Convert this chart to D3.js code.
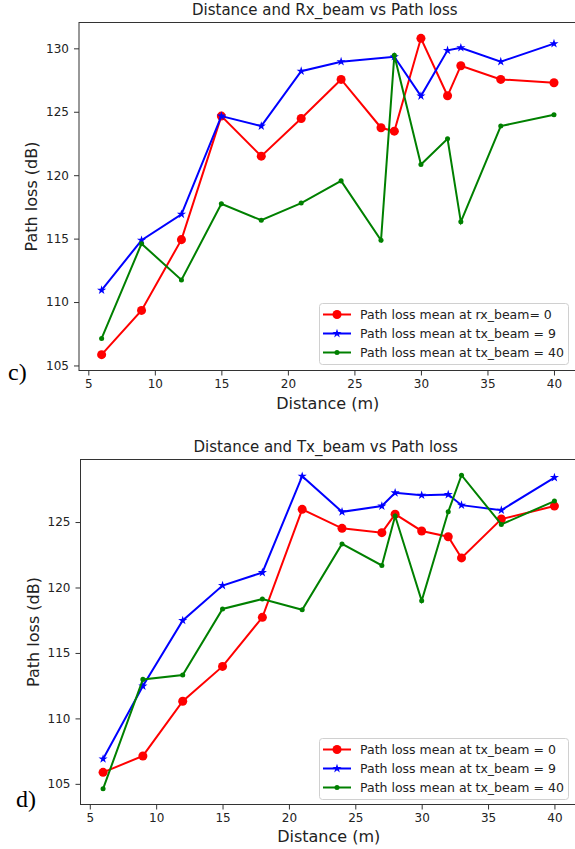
<!DOCTYPE html>
<meta charset="utf-8">
<script src="https://d3js.org/d3.v7.min.js"></script>
<style>
  body { margin: 0; background: #fff; }
  text { font-family: "DejaVu Sans", sans-serif; fill: #222; }
</style>
<svg id="my_dataviz" width="575" height="849"></svg>
<script>

    // distances (m)
    var distC = [6, 9, 12, 15, 18, 21, 24, 27, 28, 30, 32, 33, 36, 40];
    var distCBlue = [6, 9, 12, 15, 18, 21, 24, 28, 30, 32, 33, 36, 40];
    var distD = [6, 9, 12, 15, 18, 21, 24, 27, 28, 30, 32, 33, 36, 40];

    // c) Distance and Rx_beam vs Path loss
    var cRx0 = [105.85, 109.34, 114.92, 124.66, 121.5, 124.47, 127.55, 123.74, 123.47, 130.79, 126.26, 128.63, 127.55, 127.29];
    var cTx9 = [110.94, 114.87, 116.92, 124.66, 123.87, 128.2, 128.95, 129.34, 126.24, 129.84, 130.05, 128.95, 130.37];
    var cTx40 = [107.13, 114.6, 111.74, 117.74, 116.45, 117.8, 119.55, 114.87, 129.45, 120.84, 122.87, 116.32, 123.87, 124.77];

    // d) Distance and Tx_beam vs Path loss
    var dTx0 = [105.88, 107.13, 111.31, 113.97, 117.72, 125.97, 124.52, 124.19, 125.6, 124.32, 123.88, 122.26, 125.23, 126.22];
    var dTx9 = [106.9, 112.47, 117.48, 120.15, 121.14, 128.5, 125.78, 126.22, 127.23, 127.05, 127.1, 126.29, 125.91, 128.4];
    var dTx40 = [104.62, 112.98, 113.31, 118.36, 119.12, 118.3, 123.33, 121.68, 125.46, 118.99, 125.78, 128.58, 124.82, 126.6];

    var xTicks = [5, 10, 15, 20, 25, 30, 35, 40];
    var yTicksC = [105, 110, 115, 120, 125, 130];
    var yTicksD = [105, 110, 115, 120, 125];

    var legendC = ["Path loss mean at rx_beam= 0", "Path loss mean at tx_beam = 9", "Path loss mean at tx_beam = 40"];
    var legendD = ["Path loss mean at tx_beam = 0", "Path loss mean at tx_beam = 9", "Path loss mean at tx_beam = 40"];

    var svg = d3.select("svg");

    // matplotlib style 5% margins
    function padded(ext) {
        var m = (ext[1] - ext[0]) * 0.05;
        return [ext[0] - m, ext[1] + m];
    }

    function drawPanel(o) {
        var g = svg.append("g");
        var allX = d3.merge(o.series.map(function (s) { return s.x }));
        var allY = d3.merge(o.series.map(function (s) { return s.y }));

        var x = d3.scaleLinear().domain(padded(d3.extent(allX))).range([o.left, o.right]);
        var y = d3.scaleLinear().domain(padded(d3.extent(allY))).range([o.bottom, o.top]);

        // frame
        g.append("rect")
            .attr("x", o.left).attr("y", o.top)
            .attr("width", o.right - o.left).attr("height", o.bottom - o.top)
            .attr("fill", "none").attr("stroke", "#333").attr("stroke-width", 1);

        // axes
        var xa = g.append("g")
            .attr("transform", "translate(0," + o.bottom + ")")
            .call(d3.axisBottom(x).tickValues(xTicks).tickSize(5).tickPadding(4).tickFormat(d3.format("d")));
        var ya = g.append("g")
            .attr("transform", "translate(" + o.left + ",0)")
            .call(d3.axisLeft(y).tickValues(o.yTicks).tickSize(5).tickPadding(5).tickFormat(d3.format("d")));
        [xa, ya].forEach(function (a) {
            a.select(".domain").remove();
            a.selectAll("line").attr("stroke", "#333");
            a.selectAll("text").attr("font-size", 12).attr("font-family", "DejaVu Sans").attr("fill", "#222");
        });

        // lines + markers
        o.series.forEach(function (s) {
            var pts = s.x.map(function (d, i) { return [d, s.y[i]] });
            g.append("path")
                .datum(pts)
                .attr("fill", "none")
                .attr("stroke", s.color)
                .attr("stroke-width", 2)
                .attr("d", d3.line()
                    .x(function (d) { return x(d[0]) })
                    .y(function (d) { return y(d[1]) }));
            g.append("g")
                .selectAll("path")
                .data(pts)
                .enter()
                .append("path")
                .attr("transform", function (d) { return "translate(" + x(d[0]) + "," + y(d[1]) + ")" })
                .attr("d", s.marker)
                .attr("fill", s.color);
        });

        // title / labels
        g.append("text")
            .attr("x", (o.left + o.right) / 2 - 3).attr("y", o.top - 7.5)
            .attr("text-anchor", "middle").attr("font-size", 15)
            .text(o.title);
        g.append("text")
            .attr("x", (o.left + o.right) / 2).attr("y", o.xlabelY)
            .attr("text-anchor", "middle").attr("font-size", 16)
            .text("Distance (m)");
        g.append("text")
            .attr("transform", "translate(" + o.ylabelX + "," + (o.top + o.bottom) / 2 + ") rotate(-90)")
            .attr("text-anchor", "middle").attr("font-size", 16)
            .text("Path loss (dB)");

        // legend
        var lg = g.append("g");
        lg.append("rect")
            .attr("x", 319.5).attr("y", o.legTop)
            .attr("width", 249).attr("height", 61)
            .attr("rx", 3)
            .attr("fill", "#fff").attr("fill-opacity", 0.8)
            .attr("stroke", "#d0d0d0");
        o.series.forEach(function (s, i) {
            var ly = o.legTop + 11 + i * 19;
            lg.append("line")
                .attr("x1", 323).attr("x2", 351).attr("y1", ly).attr("y2", ly)
                .attr("stroke", s.color).attr("stroke-width", 2);
            lg.append("path")
                .attr("transform", "translate(337," + ly + ")")
                .attr("d", s.marker).attr("fill", s.color);
            lg.append("text")
                .attr("x", 360).attr("y", ly + 4.5)
                .attr("font-size", 12.5)
                .text(o.legend[i]);
        });

        // panel tag
        svg.append("text")
            .attr("x", o.tagX).attr("y", o.tagY)
            .attr("font-size", 24)
            .style("font-family", "'Liberation Serif', serif")
            .style("fill", "#000")
            .text(o.tag);
    }

    var circle = d3.symbol().type(d3.symbolCircle).size(64)();
    var star = d3.symbol().type(d3.symbolStar).size(26)();
    var dot = d3.symbol().type(d3.symbolCircle).size(20)();

    drawPanel({
        left: 79, right: 576.6, top: 22.5, bottom: 370.5,
        yTicks: yTicksC,
        title: "Distance and Rx_beam vs Path loss",
        xlabelY: 409, ylabelX: 37,
        legTop: 303.5, legend: legendC,
        tag: "c)", tagX: 8, tagY: 380,
        series: [
            { x: distC, y: cRx0, color: "#ff0000", marker: circle },
            { x: distCBlue, y: cTx9, color: "#0000ff", marker: star },
            { x: distC, y: cTx40, color: "#008000", marker: dot }
        ]
    });

    drawPanel({
        left: 80.5, right: 577, top: 459.5, bottom: 804.5,
        yTicks: yTicksD,
        title: "Distance and Tx_beam vs Path loss",
        xlabelY: 842, ylabelX: 39,
        legTop: 738.5, legend: legendD,
        tag: "d)", tagX: 16, tagY: 807,
        series: [
            { x: distD, y: dTx0, color: "#ff0000", marker: circle },
            { x: distD, y: dTx9, color: "#0000ff", marker: star },
            { x: distD, y: dTx40, color: "#008000", marker: dot }
        ]
    });

</script>
